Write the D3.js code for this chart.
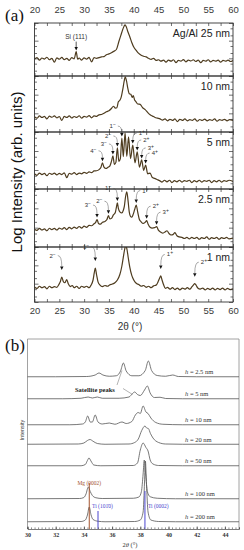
<!DOCTYPE html>
<html>
<head>
<meta charset="utf-8">
<script src="https://cdn.jsdelivr.net/npm/d3@7"></script>
<style>
  html, body { margin: 0; padding: 0; background: #fff; }
  svg { display: block; }
</style>
</head>
<body>
<svg id="chart" width="244" height="550"></svg>
<script>
// ---------------------------------------------------------------------------
// Data, panel (a): log10 intensity vs 2theta, one trace per period
const aLabels = ['Ag/Al 25 nm', '10 nm', '5 nm', '2.5 nm', '1 nm'];
const aTicks = [20, 25, 30, 35, 40, 45, 50, 55, 60];
const logTicks = [1, 2, 5, 10, 20, 50, 100, 200, 500, 1000];

const a25nm = [[20,0.95],[20.5,1.04],[21,0.9],[21.5,1.02],[22,0.96],[22.5,1.06],[23,0.92],[23.5,1.0],[24,0.78],[24.5,1.03],
  [25,0.95],[25.5,1.05],[26,0.93],[26.5,1.0],[27,0.88],[27.5,1.04],[28,0.97],[28.4,1.38],[28.7,0.95],[29,1.02],[29.5,0.9],
  [30,1.03],[30.5,0.96],[31,1.05],[31.5,0.8],[32,1.04],[32.5,1.0],[33,1.04],[33.5,1.08],[34,1.1],[34.5,1.2],[35,1.25],
  [35.5,1.32],[36,1.4],[36.5,1.5],[37,1.95],[37.4,2.3],[37.8,2.65],[38.05,2.82],[38.25,2.9],[38.5,2.78],[38.8,2.52],
  [39.2,2.22],[39.6,1.9],[40,1.64],[40.5,1.45],[41,1.28],[41.5,1.18],[42,1.12],[42.5,1.08],[43,1.0],[43.5,0.94],[44,1.0],
  [44.5,0.88],[45,0.92],[45.5,0.84],[46,0.9],[46.5,0.78],[47,0.9],[47.5,0.84],[48,0.92],[48.5,0.76],[49,0.88],[49.5,0.84],
  [50,0.93],[50.5,0.8],[51,0.9],[51.5,0.85],[52,0.92],[52.5,0.82],[53,0.9],[53.5,0.76],[54,0.88],[54.5,0.84],[55,0.92],
  [55.5,0.8],[56,0.88],[56.5,0.84],[57,0.9],[57.5,0.78],[58,0.88],[58.5,0.84],[59,0.9],[59.5,0.82],[60,0.88]];

const a10nm = [[20,0.82],[20.5,0.74],[21,0.86],[21.5,0.78],[22,0.84],[22.5,0.7],[23,0.85],[23.5,0.79],[24,0.86],[24.5,0.76],
  [25,0.83],[25.5,0.62],[26,0.84],[26.5,0.78],[27,0.86],[27.5,0.75],[28,0.83],[28.5,0.78],[29,0.87],[29.5,0.74],[30,0.84],
  [30.5,0.8],[31,0.88],[31.5,0.76],[32,0.86],[32.5,0.84],[33,0.92],[33.5,0.94],[34,1.0],[34.5,1.08],[35,1.14],[35.5,1.26],
  [35.9,1.38],[36.3,1.28],[36.6,1.3],[36.9,1.62],[37.2,1.7],[37.5,1.9],[37.8,2.3],[38.05,2.7],[38.3,2.95],[38.55,2.72],
  [38.8,2.35],[39.1,2.05],[39.4,2.02],[39.7,1.85],[39.9,1.95],[40.2,1.7],[40.4,1.64],[40.8,1.5],[41.3,1.48],[41.8,1.3],
  [42.3,1.2],[42.8,1.05],[43.3,0.92],[43.8,0.85],[44.3,0.78],[44.8,0.74],[45.3,0.7],[45.8,0.64],[46.3,0.7],[46.8,0.6],
  [47.3,0.68],[47.8,0.62],[48.3,0.7],[48.8,0.56],[49.3,0.68],[49.8,0.62],[50.3,0.7],[50.8,0.6],[51.3,0.66],[51.8,0.62],
  [52.3,0.7],[52.8,0.58],[53.3,0.67],[53.8,0.62],[54.3,0.69],[54.8,0.6],[55.3,0.66],[55.8,0.62],[56.3,0.7],[56.8,0.58],
  [57.3,0.66],[57.8,0.62],[58.3,0.68],[58.8,0.6],[59.3,0.66],[60,0.62]];

const a5nm = [[20,0.8],[20.5,0.72],[21,0.84],[21.5,0.76],[22,0.82],[22.5,0.7],[23,0.83],[23.5,0.77],[24,0.84],[24.5,0.74],
  [25,0.82],[25.5,0.76],[26,0.85],[26.5,0.6],[27,0.83],[27.5,0.78],[28,0.86],[28.5,0.76],[29,0.84],[29.5,0.8],[30,0.88],
  [30.5,0.82],[31,0.9],[31.5,0.86],[32,0.95],[32.5,0.96],[33,1.02],[33.4,1.15],[33.7,1.38],[34,1.15],[34.4,1.08],[34.8,1.14],
  [35.2,1.22],[35.5,1.45],[35.8,1.74],[36.1,1.3],[36.4,1.4],[36.7,2.16],[37,1.45],[37.3,1.6],[37.6,2.68],[37.9,1.7],
  [38.25,2.95],[38.6,1.72],[38.95,2.74],[39.35,1.6],[39.8,2.31],[40.25,1.38],[40.7,1.95],[41.15,1.15],[41.6,1.53],[42,0.98],
  [42.4,1.26],[42.8,0.8],[43.3,0.84],[43.7,0.62],[44.2,0.56],[44.7,0.5],[45.2,0.44],[45.7,0.36],[46.2,0.46],[46.7,0.38],
  [47.2,0.46],[47.7,0.34],[48.2,0.44],[48.7,0.38],[49.2,0.46],[49.7,0.36],[50.2,0.44],[50.7,0.4],[51.2,0.46],[51.7,0.34],
  [52.2,0.44],[52.7,0.38],[53.2,0.46],[53.7,0.36],[54.2,0.44],[54.7,0.4],[55.2,0.46],[55.7,0.34],[56.2,0.44],[56.7,0.38],
  [57.2,0.46],[57.7,0.36],[58.2,0.44],[58.7,0.4],[59.2,0.46],[60,0.4]];

const a2p5nm = [[20,0.92],[20.5,0.86],[21,0.96],[21.5,0.88],[22,0.94],[22.5,0.84],[23,0.97],[23.5,0.9],[24,0.96],[24.5,0.88],
  [25,0.98],[25.5,0.92],[26,1.0],[26.5,0.9],[27,1.02],[27.5,0.94],[28,1.03],[28.5,0.96],[29,1.06],[29.5,0.98],[30,1.08],
  [30.5,1.02],[31,1.12],[31.5,1.1],[32,1.2],[32.3,1.26],[32.6,1.42],[32.9,1.22],[33.3,1.18],[33.7,1.28],[34.2,1.32],
  [34.6,1.42],[34.9,1.62],[35.2,1.45],[35.5,1.48],[35.9,1.66],[36.3,1.8],[36.5,2.05],[36.7,2.28],[36.9,2.0],[37.2,1.82],
  [37.6,1.76],[37.9,1.9],[38.1,2.1],[38.35,2.6],[38.6,2.85],[38.85,2.4],[39.1,1.8],[39.35,1.58],[39.6,1.54],[39.9,1.7],
  [40.2,1.95],[40.5,2.17],[40.8,1.8],[41.1,1.45],[41.5,1.3],[41.9,1.22],[42.3,1.28],[42.6,1.36],[42.9,1.18],[43.3,1.02],
  [43.7,0.98],[44.2,1.0],[44.6,1.05],[45,0.86],[45.4,0.78],[45.9,0.72],[46.3,0.78],[46.7,0.84],[47.1,0.7],[47.5,0.62],
  [47.9,0.64],[48.3,0.74],[48.7,0.58],[49.2,0.52],[49.7,0.5],[50.2,0.44],[50.7,0.5],[51.2,0.42],[51.7,0.5],[52.2,0.44],
  [52.7,0.5],[53.2,0.4],[53.7,0.48],[54.2,0.44],[54.7,0.52],[55.2,0.4],[55.7,0.48],[56.2,0.44],[56.7,0.5],[57.2,0.4],
  [57.7,0.48],[58.2,0.44],[58.7,0.5],[59.2,0.42],[60,0.46]];

const a1nm = [[20,0.82],[20.5,0.74],[21,0.86],[21.5,0.78],[22,0.84],[22.5,0.72],[23,0.86],[23.5,0.78],[24,0.84],[24.5,0.8],
  [24.9,0.95],[25.2,1.1],[25.5,1.36],[25.8,1.12],[26.1,1.05],[26.5,1.22],[26.8,1.0],[27.2,0.84],[27.6,0.9],[28,0.78],
  [28.5,0.86],[29,0.74],[29.5,0.86],[30,0.8],[30.5,0.86],[31,0.78],[31.4,0.92],[31.8,1.2],[32.05,1.6],[32.25,1.85],
  [32.5,1.5],[32.8,1.1],[33.2,0.92],[33.7,0.84],[34.2,0.9],[34.7,0.86],[35.2,0.94],[35.7,0.98],[36.2,1.05],[36.7,1.2],
  [37.2,1.5],[37.6,1.95],[37.9,2.45],[38.15,2.85],[38.4,3.1],[38.65,2.85],[38.9,2.4],[39.2,1.9],[39.6,1.45],[40,1.2],
  [40.5,1.02],[41,0.95],[41.5,0.86],[42,0.9],[42.5,0.8],[43,0.86],[43.5,0.78],[44,0.88],[44.5,0.92],[44.9,1.1],[45.2,1.3],
  [45.45,1.42],[45.7,1.2],[46,0.95],[46.4,0.74],[46.8,0.8],[47.3,0.7],[47.8,0.78],[48.3,0.68],[48.8,0.76],[49.3,0.66],
  [49.8,0.76],[50.3,0.7],[50.8,0.78],[51.3,0.7],[51.7,0.82],[52,0.92],[52.3,1.0],[52.6,0.9],[52.9,0.76],[53.4,0.7],
  [53.9,0.76],[54.4,0.66],[54.9,0.74],[55.4,0.68],[55.9,0.76],[56.4,0.66],[56.9,0.74],[57.4,0.68],[57.9,0.76],[58.4,0.66],
  [58.9,0.74],[59.4,0.68],[60,0.72]];

// satellite markers: [2theta, order, sign]
const marks5nm = [[33.7,'4','−'],[35.8,'3','−'],[36.7,'2','−'],[37.6,'1','−'],[39.8,'1','+'],[40.7,'2','+'],[41.6,'3','+'],[42.4,'4','+']];
const marks2p5nm = [[32.6,'3','−'],[34.9,'2','−'],[36.7,'1','−'],[40.5,'1','+'],[42.6,'2','+'],[44.6,'3','+']];
const marks1nm = [[25.5,'2','−'],[32.25,'1','−'],[45.45,'1','+'],[52.3,'2','+']];
const siPeak = [28.4, 'Si (111)'];

const aTraces = [a25nm, a10nm, a5nm, a2p5nm, a1nm];
const aMarks = [[], [], marks5nm, marks2p5nm, marks1nm];

// ---------------------------------------------------------------------------
// Data, panel (b): simulated patterns, intensity (a.u.) vs 2theta
const bLabels = ['2.5 nm', '5 nm', '10 nm', '20 nm', '50 nm', '100 nm', '200 nm'];
const bTicks = [30, 32, 34, 36, 38, 40, 42, 44];

const b2p5 = [[30,1],[32,1],[34.2,2],[34.8,8],[35.07,16],[35.35,8],[35.8,3],[36.3,5],[36.6,24],[36.8,56],[37,24],[37.4,5],
  [37.9,5],[38.35,26],[38.57,64],[38.8,26],[39.2,6],[39.8,3],[40.3,8],[40.7,2],[42,1],[45,1]];
const b5 = [[30,1],[32.5,1],[33.8,3],[34.3,8],[34.6,4],[34.95,8],[35.3,3],[36.5,3],[37.2,8],[37.45,22],[37.6,28],[37.8,18],
  [38,14],[38.3,36],[38.5,52],[38.7,24],[39,6],[39.4,7],[39.8,2],[41,1],[45,1]];
const b10 = [[30,1],[33,1],[33.9,4],[34.1,12],[34.27,36],[34.45,12],[34.6,12],[34.8,40],[35,12],[35.3,4],[35.8,8],[36.2,3],
  [36.7,12],[37,6],[37.4,14],[37.65,40],[37.85,50],[38,46],[38.2,76],[38.4,52],[38.55,46],[38.75,28],[39.1,10],[39.6,3],
  [41,1],[45,1]];
const b20 = [[30,1],[33.6,2],[34,6],[34.25,16],[34.43,20],[34.65,13],[34.95,4],[35.5,1],[37.2,2],[37.6,8],[37.86,22],
  [38.1,56],[38.33,74],[38.45,66],[38.57,64],[38.72,44],[38.9,26],[39.3,8],[39.8,2],[41,1],[45,1]];
const b50 = [[30,1],[33.8,1],[34.1,6],[34.25,22],[34.36,32],[34.5,20],[34.7,4],[35.2,1],[37.5,2],[37.8,12],[38,64],[38.2,92],
  [38.4,74],[38.55,60],[38.7,24],[38.9,8],[39.3,2],[41,1],[45,1]];
const b100 = [[30,1],[33.7,2],[34,6],[34.15,20],[34.31,48],[34.45,30],[34.6,14],[34.85,5],[35.3,2],[37.5,3],[37.9,8],
  [38.08,30],[38.2,100],[38.28,156],[38.38,100],[38.5,30],[38.7,9],[39.2,3],[40.5,1],[45,1]];
const b200 = [[30,1],[33.8,2],[34.1,8],[34.25,28],[34.38,60],[34.5,30],[34.65,10],[35,3],[35.5,1],[37.6,2],[38,8],[38.2,40],
  [38.3,160],[38.36,244],[38.44,150],[38.55,40],[38.75,8],[39.3,2],[40.5,1],[45,1]];
const bTraces = [b2p5, b5, b10, b20, b50, b100, b200];

// reference sticks
const refNames = ['Mg (0002)', 'Ti (101\u03040)', 'Ti (0002)'];
const refPos = [34.38, 35.0, 38.33];
const refInt = [184, 72, 152];
const refColors = ['#a4542f', '#4a46cf', '#4a46cf'];

// ---------------------------------------------------------------------------
const svg = d3.select('#chart');
const sans = "'Liberation Sans', Arial, sans-serif";
const serif = "'Liberation Serif', 'Times New Roman', serif";

// strip the domain path and restyle tick lines
const tickStyle = (sel) => {
  sel.select('.domain').remove();
  sel.selectAll('line').attr('stroke', '#333').attr('stroke-width', 0.7);
};

// ////////////////////////////////////////////////////////////////////////////
// Panel (a)
const aRows = [23, 76, 132, 189, 247, 302];   // subpanel edges
const markGap = [0, 0, 1.5, 2, 7];              // arrow distance above peak
const markLift = [0, 0, 5, 7, 9];               // label distance above arrow
const xA = d3.scaleLinear().domain([20, 60]).range([34.5, 233]);
const [aL, aR] = xA.range();
const ga = svg.append('g').attr('class', 'panel-a');

aTraces.forEach((trace, i) => {
  const top = aRows[i];
  const bottom = aRows[i + 1];
  const y = d3.scaleLinear().domain([0, 3]).range([bottom, top]);
  const g = ga.append('g');

  g.append('clipPath').attr('id', `clip-a${i}`)
    .append('rect')
    .attr('x', aL).attr('y', top)
    .attr('width', aR - aL).attr('height', bottom - top);

  g.append('path')
    .datum(trace)
    .attr('clip-path', `url(#clip-a${i})`)
    .attr('fill', 'none')
    .attr('stroke', '#4e3c1f')
    .attr('stroke-width', 1.2)
    .attr('stroke-linejoin', 'round')
    .attr('d', d3.line().x((d) => xA(d[0])).y((d) => y(d[1])).curve(d3.curveMonotoneX));

  // inward ticks on all four sides
  const minorX = d3.range(20, 60.01, 2.5);
  const yt = logTicks.map(Math.log10);
  g.append('g').attr('transform', `translate(0,${bottom})`)
    .call(d3.axisBottom(xA).tickValues(minorX).tickSize(-3).tickFormat(''))
    .call(tickStyle);
  g.append('g').attr('transform', `translate(0,${top})`)
    .call(d3.axisTop(xA).tickValues(minorX).tickSize(-3).tickFormat(''))
    .call(tickStyle);
  g.append('g').attr('transform', `translate(${aL},0)`)
    .call(d3.axisLeft(y).tickValues(yt).tickSize(-2.5).tickFormat(''))
    .call(tickStyle)
    .selectAll('.tick line').attr('x2', (d) => (Number.isInteger(d) ? 4 : 2.5));
  g.append('g').attr('transform', `translate(${aR},0)`)
    .call(d3.axisRight(y).tickValues(yt).tickSize(-2.5).tickFormat(''))
    .call(tickStyle)
    .selectAll('.tick line').attr('x2', (d) => (Number.isInteger(d) ? -4 : -2.5));

  g.append('rect')
    .attr('x', aL).attr('y', top)
    .attr('width', aR - aL).attr('height', bottom - top)
    .attr('fill', 'none').attr('stroke', '#333').attr('stroke-width', 0.9);

  g.append('text')
    .attr('x', 230).attr('y', top + 14)
    .attr('text-anchor', 'end')
    .style('font', `10.5px ${sans}`)
    .attr('fill', '#222')
    .text(aLabels[i]);

  // satellite markers
  aMarks[i].forEach(([pos, order, sign]) => {
    const peak = d3.least(trace, (d) => Math.abs(d[0] - pos));
    const tx = xA(pos);
    const ty = y(peak[1]) - markGap[i];
    const s = sign === '+' ? 1 : -1;
    const lx = tx + s * 6;
    const ly = ty - 3.5 - markLift[i];
    g.append('path')
      .attr('d', `M${tx - 1.7},${ty - 3.5}L${tx + 1.7},${ty - 3.5}L${tx},${ty}Z`)
      .attr('fill', '#111');
    g.append('path')
      .attr('d', `M${lx - s * 2},${ly - 2} Q${tx},${ly - 2} ${tx},${ty - 3.5}`)
      .attr('fill', 'none').attr('stroke', '#555').attr('stroke-width', 0.5);
    const t = g.append('text')
      .attr('x', lx).attr('y', ly)
      .attr('text-anchor', s > 0 ? 'start' : 'end')
      .style('font', `6px ${sans}`)
      .attr('fill', '#333')
      .text(order);
    t.append('tspan').attr('dy', -2).style('font-size', '5px').text(sign);
  });
});

// Si (111) reference peak
{
  const y0 = d3.scaleLinear().domain([0, 3]).range([aRows[1], aRows[0]]);
  const peak = d3.least(a25nm, (d) => Math.abs(d[0] - siPeak[0]));
  const tx = xA(siPeak[0]);
  const ty = y0(peak[1]) - 1;
  ga.append('line').attr('x1', tx).attr('x2', tx).attr('y1', ty - 9).attr('y2', ty - 3)
    .attr('stroke', '#111').attr('stroke-width', 0.7);
  ga.append('path').attr('d', `M${tx - 1.7},${ty - 3.5}L${tx + 1.7},${ty - 3.5}L${tx},${ty}Z`).attr('fill', '#111');
  ga.append('text').attr('x', tx).attr('y', ty - 12)
    .attr('text-anchor', 'middle').style('font', `6.5px ${sans}`).attr('fill', '#333')
    .text(siPeak[1]);
}

// tick labels top and bottom
ga.append('g').attr('transform', `translate(0,${aRows[0]})`)
  .call(d3.axisTop(xA).tickValues(aTicks).tickSize(0).tickPadding(10.5))
  .call((s) => s.select('.domain').remove())
  .selectAll('text').style('font', `9.5px ${sans}`).attr('fill', '#3a3a3a');
ga.append('g').attr('transform', `translate(0,${aRows[5]})`)
  .call(d3.axisBottom(xA).tickValues(aTicks).tickSize(0).tickPadding(5))
  .call((s) => s.select('.domain').remove())
  .selectAll('text').style('font', `9.5px ${sans}`).attr('fill', '#3a3a3a');

ga.append('text').attr('x', 130).attr('y', 329.5).attr('text-anchor', 'middle')
  .style('font', `10px ${sans}`).attr('fill', '#333').text('2θ (°)');
ga.append('text').attr('transform', 'translate(21.5,172) rotate(-90)').attr('text-anchor', 'middle')
  .style('font', `15px ${sans}`).attr('fill', '#111').text('Log Intensity (arb. units)');
ga.append('text').attr('x', 5).attr('y', 20.5).style('font', `17px ${serif}`).attr('fill', '#111').text('(a)');

// ////////////////////////////////////////////////////////////////////////////
// Panel (b)
const bTop = 339;
const bAxis = 529;
const bBase = [377, 399, 425, 444.5, 466, 499, 522];   // trace baselines
const xB = d3.scaleLinear().domain([30, 45]).range([27.5, 239]);
const yOff = d3.scaleLinear().domain([0, 100]).range([0, 25]);
const [bL, bR] = xB.range();
const gb = svg.append('g').attr('class', 'panel-b');

gb.append('path')
  .attr('d', `M${bL},${bAxis}V${bTop}H${bR}V${bAxis}`)
  .attr('fill', 'none').attr('stroke', '#8a8a8a').attr('stroke-width', 0.8);

bTraces.forEach((trace, i) => {
  gb.append('path')
    .datum(trace)
    .attr('fill', 'none')
    .attr('stroke', '#555')
    .attr('stroke-width', 0.8)
    .attr('d', d3.line().x((d) => xB(d[0])).y((d) => bBase[i] - yOff(d[1])).curve(d3.curveMonotoneX));

  const t = gb.append('text')
    .attr('x', 185).attr('y', bBase[i] - 3)
    .style('font', `6.5px ${serif}`).attr('fill', '#333');
  t.append('tspan').style('font-style', 'italic').text('h');
  t.append('tspan').text(` = ${bLabels[i]}`);
});

// reference sticks with labels
refPos.forEach((pos, i) => {
  const x = xB(pos);
  gb.append('line')
    .attr('x1', x).attr('x2', x)
    .attr('y1', bAxis).attr('y2', bAxis - yOff(refInt[i]))
    .attr('stroke', refColors[i]).attr('stroke-width', 1);
});
const refLabelPos = [[0, -44, 'middle'], [-6, -21.5, 'start'], [3, -21.5, 'start']];
refNames.forEach((name, i) => {
  const [dx, dy, anchor] = refLabelPos[i];
  gb.append('text')
    .attr('x', xB(refPos[i]) + dx).attr('y', bAxis + dy)
    .attr('text-anchor', anchor)
    .style('font', `5.5px ${serif}`)
    .attr('fill', refColors[i])
    .text(name);
});

// satellite peaks note
gb.append('text').attr('x', 75).attr('y', 391.5)
  .style('font', `bold 6.5px ${serif}`).attr('fill', '#222').text('Satellite peaks');
gb.append('line')
  .attr('x1', 117).attr('y1', 385)
  .attr('x2', xB(36.7)).attr('y2', bBase[0] - yOff(26))
  .attr('stroke', '#666').attr('stroke-width', 0.5);
gb.append('line')
  .attr('x1', 123).attr('y1', 388.5)
  .attr('x2', xB(37.45)).attr('y2', bBase[1] - yOff(18))
  .attr('stroke', '#666').attr('stroke-width', 0.5);

// bottom axis: dense inward minor ticks, labelled every 2 degrees
gb.append('g').attr('transform', `translate(0,${bAxis})`)
  .call(d3.axisBottom(xB).tickValues(d3.range(30, 45.01, 0.25)).tickSize(-1.6).tickFormat(''))
  .call((s) => s.select('.domain').attr('stroke', '#444').attr('stroke-width', 0.7))
  .selectAll('line').attr('stroke', '#444').attr('stroke-width', 0.6);
gb.append('g').attr('transform', `translate(0,${bAxis})`)
  .call(d3.axisBottom(xB).tickValues(bTicks).tickSize(-2.5).tickPadding(3.7))
  .call(tickStyle)
  .selectAll('text').style('font', `bold 6px ${serif}`).attr('fill', '#333');

{
  const t = gb.append('text').attr('x', 130).attr('y', 546.5).attr('text-anchor', 'middle')
    .style('font', `6.5px ${serif}`).attr('fill', '#333');
  t.append('tspan').text('2');
  t.append('tspan').style('font-style', 'italic').text('θ');
  t.append('tspan').text(' (°)');
}
gb.append('text').attr('transform', 'translate(23.5,430) rotate(-90)').attr('text-anchor', 'middle')
  .style('font', `5.5px ${sans}`).attr('fill', '#333').text('Intensity');
gb.append('text').attr('x', 5).attr('y', 351).style('font', `17px ${serif}`).attr('fill', '#111').text('(b)');
</script>
</body>
</html>
